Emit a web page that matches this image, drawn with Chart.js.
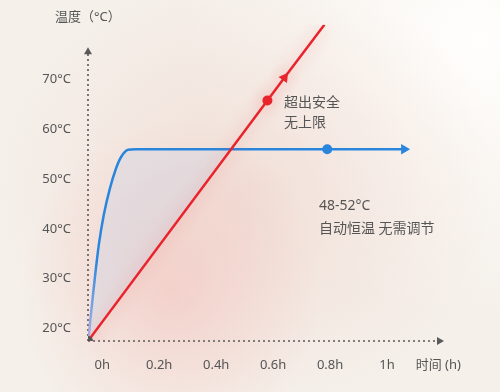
<!DOCTYPE html>
<html>
<head>
<meta charset="utf-8">
<script src="https://cdn.jsdelivr.net/npm/chart.js@4.4.1/dist/chart.umd.min.js"></script>
<style>
  html, body { margin: 0; padding: 0; }
  body {
    width: 500px; height: 392px; overflow: hidden;
    background:
      radial-gradient(ellipse 150px 170px at 170px 290px, rgba(242, 160, 155, 0.32), rgba(242, 160, 155, 0) 100%),
      radial-gradient(ellipse 260px 220px at 250px 190px, rgba(236, 205, 195, 0.5), rgba(236, 205, 195, 0) 100%),
      radial-gradient(ellipse 300px 280px at 480px 40px, rgba(255, 254, 252, 1), rgba(255, 254, 252, 0) 100%),
      #f5f0ea;
  }
  canvas { display: block; }
</style>
</head>
<body>
<canvas id="tempChart" width="500" height="392"></canvas>
<script>
// x axis ticks (hours) and labels
const xTicks = [0, 0.2, 0.4, 0.6, 0.8, 1, 1.18];
const xLabels = ['0h', '0.2h', '0.4h', '0.6h', '0.8h', '1h', '时间 (h)'];
// y axis ticks (°C)
const yTicks = [20, 30, 40, 50, 60, 70];

// blue: heats fast, then holds steady
const blueTime = [-0.049, -0.0386, -0.0263, -0.0123, 0.0053, 0.0263, 0.0474, 0.0667, 0.0912, 0.1158, 0.79, 1.06];
const blueTemp = [17.5, 23.5, 30, 36.7, 42.8, 48, 52, 54.5, 55.9, 56, 56, 56];

// red: keeps climbing with no limit
const redTime = [-0.05, 0.58, 0.64, 0.78];
const redTemp = [17.5, 65.8, 70.4, 81];

const BLUE = '#2a86dd';
const RED = '#e9242c';
const TEXT = '#555555';
const FONT = '"Noto Sans", "Noto Sans CJK SC", sans-serif';

const notes = [
    { t: 0.638, v: 65.3, text: '超出安全' },
    { t: 0.638, v: 61.2, text: '无上限' },
    { t: 0.761, v: 44.7, text: '48-52°C' },
    { t: 0.761, v: 40.0, text: '自动恒温 无需调节' }
];

const axesPlugin = {
    id: 'axesPlugin',
    beforeDatasetsDraw(chart) {
        const ctx = chart.ctx;
        const x = chart.scales.x, y = chart.scales.y;
        const ox = x.getPixelForValue(-0.05);
        const oy = y.getPixelForValue(17.5);
        const xEnd = x.getPixelForValue(1.2);
        const yEnd = y.getPixelForValue(76.5);
        ctx.save();
        ctx.strokeStyle = '#5a5a5a';
        ctx.fillStyle = '#5a5a5a';
        ctx.lineWidth = 1.6;
        ctx.setLineDash([2, 3]);
        ctx.beginPath();
        ctx.moveTo(ox, oy);
        ctx.lineTo(xEnd - 4, oy);
        ctx.moveTo(ox, oy);
        ctx.lineTo(ox, yEnd + 4);
        ctx.stroke();
        ctx.setLineDash([]);
        // arrow heads
        ctx.beginPath();
        ctx.moveTo(xEnd, oy);
        ctx.lineTo(xEnd - 7, oy - 4);
        ctx.lineTo(xEnd - 7, oy + 4);
        ctx.closePath();
        ctx.fill();
        ctx.beginPath();
        ctx.moveTo(ox, yEnd);
        ctx.lineTo(ox - 4, yEnd + 7);
        ctx.lineTo(ox + 4, yEnd + 7);
        ctx.closePath();
        ctx.fill();
        ctx.restore();
    },
    beforeDatasetDraw(chart, args) {
        if (args.index === 1) {
            chart.ctx.save();
            chart.ctx.shadowColor = 'rgba(235, 60, 60, 0.4)';
            chart.ctx.shadowBlur = 16;
        }
    },
    afterDatasetDraw(chart, args) {
        if (args.index === 1) chart.ctx.restore();
    },
    afterDraw(chart) {
        const ctx = chart.ctx;
        const x = chart.scales.x, y = chart.scales.y;
        ctx.save();
        ctx.fillStyle = TEXT;
        ctx.font = '14px ' + FONT;
        ctx.textBaseline = 'middle';
        ctx.textAlign = 'left';
        notes.forEach(n => {
            ctx.fillText(n.text, x.getPixelForValue(n.t), y.getPixelForValue(n.v));
        });
        // y axis title
        ctx.font = '13px ' + FONT;
        ctx.fillText('温度（°C）', 55, 17);
        ctx.restore();
    }
};

// blue line fades to lavender near the bottom
function blueStroke(context) {
    const area = context.chart.chartArea;
    if (!area) return BLUE;
    const g = context.chart.ctx.createLinearGradient(0, area.bottom, 0, area.top);
    g.addColorStop(0, 'rgba(170, 180, 235, 0.9)');
    g.addColorStop(0.25, BLUE);
    g.addColorStop(1, BLUE);
    return g;
}

const ctx = document.getElementById('tempChart').getContext('2d');
new Chart(ctx, {
    type: 'line',
    data: {
        datasets: [
            {
                label: 'blue',
                data: blueTime.map((t, i) => ({ x: t, y: blueTemp[i] })),
                borderColor: blueStroke,
                borderWidth: 2.5,
                cubicInterpolationMode: 'monotone',
                fill: { target: 1, above: 'rgba(205, 212, 230, 0.4)', below: 'rgba(0,0,0,0)' },
                pointRadius: blueTime.map((t, i) => i === blueTime.length - 2 ? 5 : (i === blueTime.length - 1 ? 6 : 0)),
                pointStyle: blueTime.map((t, i) => i === blueTime.length - 1 ? 'triangle' : 'circle'),
                rotation: blueTime.map((t, i) => i === blueTime.length - 1 ? 90 : 0),
                pointBackgroundColor: BLUE,
                pointBorderWidth: 0,
                order: 1
            },
            {
                label: 'red',
                data: redTime.map((t, i) => ({ x: t, y: redTemp[i] })),
                borderColor: RED,
                borderWidth: 2.5,
                fill: false,
                pointRadius: [5, 5, 6, 0],
                pointStyle: ['circle', 'circle', 'triangle', 'circle'],
                rotation: [0, 0, 36, 0],
                pointBackgroundColor: ['#555555', RED, RED, RED],
                pointBorderWidth: 0,
                order: 0
            }
        ]
    },
    options: {
        responsive: false,
        animation: false,
        layout: { padding: { top: 17, right: 56, left: 0, bottom: 0 } },
        plugins: { legend: { display: false }, tooltip: { enabled: false } },
        scales: {
            x: {
                type: 'linear',
                min: -0.05,
                max: 1.2,
                grid: { display: false, drawTicks: false },
                border: { display: false },
                afterBuildTicks: s => { s.ticks = xTicks.map(v => ({ value: v })); },
                afterFit: s => { s.height = 51; },
                ticks: {
                    autoSkip: false,
                    maxRotation: 0,
                    padding: 16,
                    color: TEXT,
                    font: { family: FONT, size: 13 },
                    callback: (v, i) => xLabels[i]
                }
            },
            y: {
                min: 17.5,
                max: 81,
                grid: { display: false, drawTicks: false },
                border: { display: false },
                afterBuildTicks: s => { s.ticks = yTicks.map(v => ({ value: v })); },
                afterFit: s => { s.width = 88; },
                ticks: {
                    padding: 17,
                    color: TEXT,
                    font: { family: FONT, size: 13 },
                    callback: v => v + '°C'
                }
            }
        }
    },
    plugins: [axesPlugin]
});
</script>
</body>
</html>
